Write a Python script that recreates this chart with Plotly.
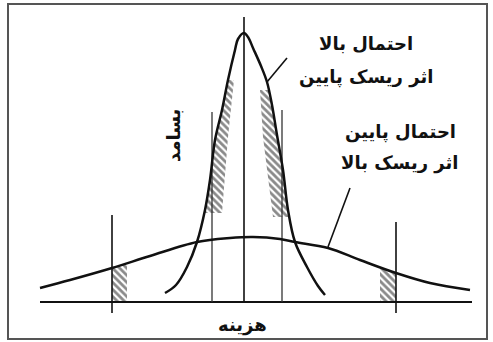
import plotly.graph_objects as go

# Narrow, tall curve: high probability, low risk impact (cost, frequency)
tall_x = [-8.0, -6.9, -5.8, -4.8, -4.0, -3.5, -3.0, -2.3, -1.7, -1.0, -0.7, -0.1, 0.3, 0.8, 1.6, 2.2, 2.7, 3.2, 3.8, 4.3, 5.0, 6.2, 7.3, 8.0]
tall_y = [0.9, 1.7, 3.5, 6.0, 9.2, 12.2, 16.2, 19.2, 22.2, 25.2, 26.3, 26.9, 26.5, 25.4, 23.6, 22.0, 19.7, 16.7, 13.2, 9.2, 6.0, 3.5, 1.6, 0.7]

# Wide, flat curve: low probability, high risk impact
wide_x = [-20.5, -17.5, -13.3, -9.5, -4.8, -1.5, 0.8, 3.5, 5.0, 8.3, 11.5, 15.1, 18.5, 22.5]
wide_y = [1.4, 2.2, 3.4, 4.6, 6.0, 6.4, 6.5, 6.3, 6.0, 5.4, 4.2, 2.9, 1.9, 1.2]

# Hatched bands inside the tall curve
band_left_x = [-1.7, -2.3, -3.0, -3.5, -4.0, -4.05, -2.3, -2.0, -1.7, -1.1, -1.7]
band_left_y = [22.2, 19.2, 16.2, 12.2, 9.2, 8.9, 8.9, 12.5, 16.5, 22.2, 22.2]
band_right_x = [2.4, 2.7, 3.2, 3.8, 4.3, 4.35, 2.8, 2.2, 1.8, 1.5, 2.4]
band_right_y = [21.2, 19.7, 16.7, 13.2, 9.2, 8.5, 8.5, 13.0, 16.5, 21.2, 21.2]

# Hatched tails of the wide curve
tail_left_x = [-13.3, -13.3, -11.8, -11.8, -13.3]
tail_left_y = [0.0, 3.4, 3.8, 0.0, 0.0]
tail_right_x = [13.5, 13.5, 15.1, 15.1, 13.5]
tail_right_y = [0.0, 3.4, 2.9, 0.0, 0.0]

# Reference lines
baseline_x = [-20.5, 22.7]
baseline_y = [0.0, 0.0]
center_x = [-0.1, -0.1]
center_y = [0.0, 28.5]
inner_left_x = [-3.3, -3.3]
inner_left_y = [0.0, 19.0]
inner_right_x = [3.7, 3.7]
inner_right_y = [0.0, 19.2]
outer_left_x = [-13.3, -13.3]
outer_left_y = [-1.1, 8.7]
outer_right_x = [15.1, 15.1]
outer_right_y = [-1.1, 8.0]

# Pointer lines
ptr1_x = [2.2, 4.2]
ptr1_y = [22.0, 24.4]
ptr2_x = [8.3, 10.5]
ptr2_y = [5.5, 11.4]

# Labels
labels = ["احتمال بالا", "اثر ریسک پایین", "احتمال پایین", "اثر ریسک بالا"]
labels_x = [12.1, 12.1, 15.5, 15.4]
labels_y = [25.9, 22.5, 17.0, 13.9]
y_title = "بسامد"
x_title = "هزینه"

INK = "#111111"
fig = go.Figure()

def hatch(xs, ys):
    fig.add_trace(go.Scatter(
        x=xs, y=ys, mode="lines", fill="toself", line=dict(width=0, color="rgba(0,0,0,0)"),
        fillcolor="rgba(0,0,0,0)",
        fillpattern=dict(shape="\\", fgcolor="#151515", bgcolor="rgba(0,0,0,0)", size=5, solidity=0.55),
        hoverinfo="skip", showlegend=False))

hatch(band_left_x, band_left_y)
hatch(band_right_x, band_right_y)
hatch(tail_left_x, tail_left_y)
hatch(tail_right_x, tail_right_y)

def line(xs, ys, w=1.6, shape="linear", color=INK):
    fig.add_trace(go.Scatter(x=xs, y=ys, mode="lines",
                             line=dict(color=color, width=w, shape=shape),
                             hoverinfo="skip", showlegend=False))

line(baseline_x, baseline_y, 2.0)
line(center_x, center_y, 1.6)
line(inner_left_x, inner_left_y, 1.3, color="#333")
line(inner_right_x, inner_right_y, 1.3, color="#333")
line(outer_left_x, outer_left_y, 1.6)
line(outer_right_x, outer_right_y, 1.6)
line(tall_x, tall_y, 2.5, "spline")
line(wide_x, wide_y, 2.5, "spline")
line(ptr1_x, ptr1_y, 1.6)
line(ptr2_x, ptr2_y, 1.6)

fnt = dict(family="DejaVu Sans", size=18, color=INK)
for t, x, y in zip(labels, labels_x, labels_y):
    fig.add_annotation(x=x, y=y, text="<b>" + t + "</b>", showarrow=False, font=fnt)
fig.add_annotation(x=-7.2, y=16.6, text="<b>" + y_title + "</b>", showarrow=False,
                   textangle=-90, font=fnt)
fig.add_annotation(x=-0.3, y=-2.3, text="<b>" + x_title + "</b>", showarrow=False, font=fnt)

fig.add_shape(type="rect", xref="paper", yref="paper",
              x0=8 / 493, x1=487 / 493, y0=1 - 339 / 342, y1=1 - 4 / 342,
              line=dict(color="#555555", width=2))

fig.update_layout(
    width=493, height=342, margin=dict(l=0, r=0, t=0, b=0),
    paper_bgcolor="white", plot_bgcolor="white",
    xaxis=dict(range=[-24.5, 24.8], visible=False, fixedrange=True),
    yaxis=dict(range=[-4.0, 30.2], visible=False, fixedrange=True),
)
fig.write_html("out.html", config={"displayModeBar": False},
               post_script="document.body.style.margin='0';document.body.style.overflow='hidden';")
